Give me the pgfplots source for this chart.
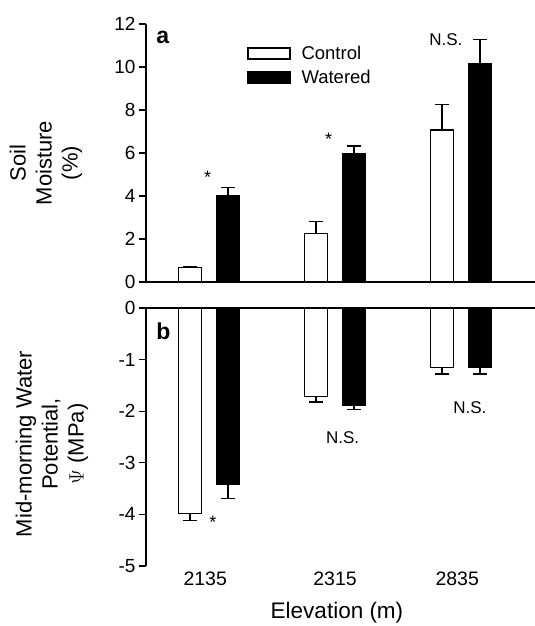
\documentclass[border=0pt]{standalone}
\usepackage{fontspec}
\setmainfont{Liberation Sans}
\usepackage{pgfplots}
\pgfplotsset{compat=1.18}
\usetikzlibrary{calc}
\tikzset{
  ann/.style={font=\fontsize{18}{20}\selectfont, anchor=base, inner sep=0pt},
  ns/.style={font=\fontsize{17}{19}\selectfont, anchor=base, inner sep=0pt},
  plab/.style={font=\fontsize{23}{26}\selectfont\bfseries, anchor=base west, inner sep=0pt},
}
\begin{document}
\begin{tikzpicture}
\pgfplotsset{
  panel/.style={
    scale only axis, width=389pt, height=258pt,
    xmin=-0.5, xmax=2.587,
    axis y line*=left,
    axis line style={line width=1.2pt},
    tick align=outside, major tick length=7pt,
    ytick style={line width=1.2pt, black},
    y tick label style={font=\fontsize{19}{22}\selectfont},
    /pgf/number format/assume math mode=true,
    ylabel style={align=center, font=\fontsize{22}{26}\selectfont, anchor=center},
    clip=false,
  },
  % control bars sit at group-0.151, watered at group+0.151
  cbar/.style={ybar, bar width=23.5pt, bar shift=0pt, fill=white, draw=black, line width=1.2pt},
  wbar/.style={ybar, bar width=23.5pt, bar shift=0pt, fill=black, draw=black, line width=1.2pt},
  errs/.style={error bars/.cd, y dir=#1, y explicit,
    error bar style={line width=1.2pt, black},
    error mark options={rotate=90, mark size=7pt, line width=1.2pt, black}},
}
% panel a: soil moisture
\begin{axis}[panel, name=a,
    ymin=0, ymax=12, ytick={0,2,...,12},
    axis x line*=bottom, xtick=\empty,
    ylabel={Soil\\Moisture\\(\%)},
    ylabel style={at={(axis description cs:-0.257,0.461)}},
    legend style={draw=none, fill=none, at={(axis description cs:0.26,0.915)}, anchor=north west,
        inner sep=0pt, font=\fontsize{18.5}{21}\selectfont, row sep=9pt, column sep=11pt,
        nodes={inner sep=0pt}},
    legend cell align=left,
]
\addlegendimage{legend image code/.code={\draw[line width=1.2pt, fill=white] (0pt,-5.5pt) rectangle (42pt,5.5pt);}}
\addlegendentry{Control}
\addlegendimage{legend image code/.code={\draw[line width=1.2pt, fill=black] (0pt,-5.5pt) rectangle (42pt,5.5pt);}}
\addlegendentry{Watered}
\addplot[cbar, errs=plus]
  coordinates {(-0.151,0.68) +- (0,0.05) (0.849,2.26) +- (0,0.55) (1.849,7.07) +- (0,1.18)};
\addplot[wbar, errs=plus]
  coordinates {(0.151,4.03) +- (0,0.36) (1.151,5.95) +- (0,0.38) (2.151,10.14) +- (0,1.15)};
\node[ann] at (axis cs:-0.01,4.6) {*};
\node[ann] at (axis cs:0.95,6.33) {*};
\node[ns] at (axis cs:1.88,11.02) {N.S.};
\node[plab] at (axis description cs:0.026,0.926) {a};
\end{axis}
% panel b: water potential
\begin{axis}[panel, name=b,
    at={($(a.south west)+(0,-26pt)$)}, anchor=north west,
    ymin=-5, ymax=0, ytick={-5,-4,...,0},
    axis x line*=bottom, x axis line style={draw=none},
    xtick={-0.03,1,1.97}, xticklabels={2135,2315,2835},
    xtick style={draw=none},
    x tick label style={font=\fontsize{19.5}{22}\selectfont, yshift=5pt},
    xlabel={Elevation (m)},
    xlabel style={font=\fontsize{22.5}{26}\selectfont, at={(axis description cs:0.491,-0.182)}, anchor=center},
    ylabel={Mid-morning Water\\Potential,\\$\Psi$ (MPa)},
    ylabel style={at={(axis description cs:-0.242,0.473)}},
]
\addplot[cbar, errs=minus]
  coordinates {(-0.151,-3.99) +- (0,0.13) (0.849,-1.72) +- (0,0.10) (1.849,-1.16) +- (0,0.12)};
\addplot[wbar, errs=minus]
  coordinates {(0.151,-3.42) +- (0,0.27) (1.151,-1.89) +- (0,0.07) (2.151,-1.16) +- (0,0.12)};
\draw[line width=1.2pt] (axis cs:-0.5,0) -- (axis cs:2.587,0);
\node[ann] at (axis cs:0.03,-4.28) {*};
\node[ns] at (axis cs:1.06,-2.62) {N.S.};
\node[ns] at (axis cs:2.07,-2.05) {N.S.};
\node[plab] at (axis description cs:0.026,0.876) {b};
\end{axis}
\pgfresetboundingbox
\useasboundingbox ($(a.south west)+(-146pt,-344pt)$) rectangle ++(535pt,626pt);
\end{tikzpicture}
\end{document}
